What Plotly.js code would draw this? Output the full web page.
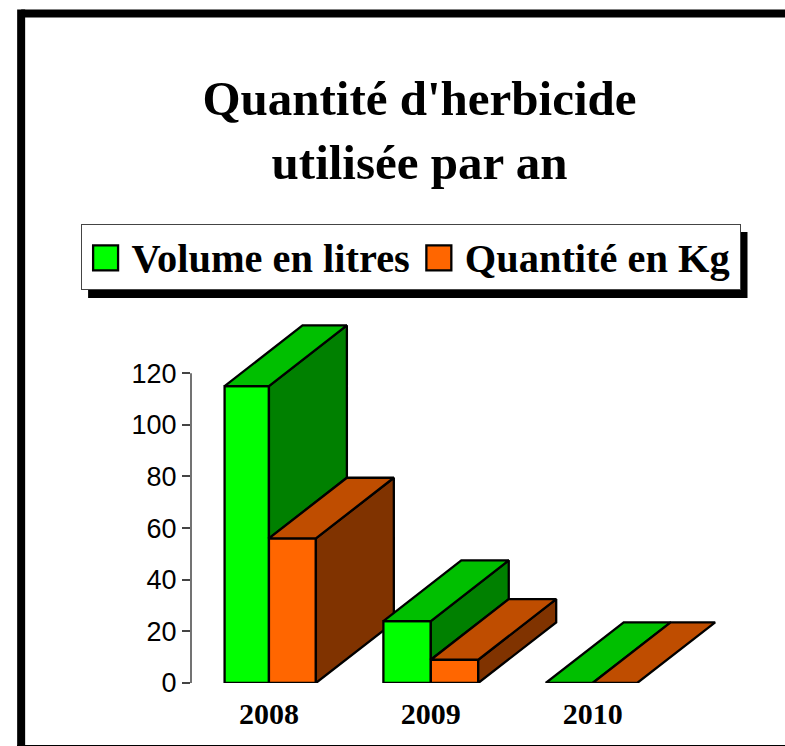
<!DOCTYPE html>
<html>
<head>
<meta charset="utf-8">
<script src="https://cdn.plot.ly/plotly-3.0.1.min.js"></script>
<style>html,body{margin:0;padding:0;background:#fff;overflow:hidden}</style>
</head>
<body>
<div id="chart" style="width:785px;height:746px"></div>
<script>
// ---- data ----
const years = [2008, 2009, 2010];
const volumeLitres = [115, 24, 0];
const quantiteKg = [56, 9, 0];
const seriesNames = ['Volume en litres', 'Quantité en Kg'];
const yTicks = [0, 20, 40, 60, 80, 100, 120];

// ---- styling ----
const greens = {front: '#00FF00', top: '#00BF00', side: '#008000'};
const oranges = {front: '#FF6600', top: '#BF4D00', side: '#803300'};
const GREEN_W = [0.274, 0.293, 0.29];   // front-face widths, x units
const ORANGE_W = [0.29, 0.293, 0.275];
const DEPTH_X = 0.4815;    // oblique depth, x units
const DEPTH_Y = 23.5;      // oblique depth, y units
const EDGE = {color: '#000', width: 2.3};
const SERIF = 'Liberation Serif, Times New Roman, serif';
const SANS = 'Liberation Sans, Arial, sans-serif';

// plot box in page pixels
const L = 191, R = 751.5, T = 320, B = 683.5, W = 785, H = 746;
const X_RANGE = [2007.5185, 2010.978];
const Y_RANGE = [0, 140.6];
const ITEM_W = 40;
const LEGEND_BOX_W = 659, LEGEND_BOX_H = 65;
const px = v => (v - L) / (R - L);
const py = v => (B - v) / (B - T);

const traces = [];
function poly(xs, ys, fill, ax) {
  traces.push({
    type: 'scatter', mode: 'lines', x: [...xs, xs[0]], y: [...ys, ys[0]],
    fill: 'toself', fillcolor: fill, line: {color: EDGE.color, width: EDGE.width, shape: 'linear'},
    showlegend: false, hoverinfo: 'skip', xaxis: ax.x, yaxis: ax.y
  });
}
function bar(year, value, width, offset, name, color, ax, showlegend) {
  traces.push({
    type: 'bar', x: [year], y: [value], width: [width], offset: [offset], name: name,
    marker: {color: color, line: EDGE}, showlegend: showlegend,
    legendgroup: name, xaxis: ax.x, yaxis: ax.y
  });
}

// each year gets its own overlaid subplot so later years paint over earlier ones
years.forEach((yr, i) => {
  const ax = i === 0 ? {x: 'x', y: 'y'} : {x: 'x' + (i + 1), y: 'y' + (i + 1)};
  const a = volumeLitres[i], b = quantiteKg[i];
  const x0 = yr - GREEN_W[i], x1 = yr, x2 = yr + ORANGE_W[i];
  bar(yr, a, GREEN_W[i], -GREEN_W[i], seriesNames[0], greens.front, ax, i === 0);
  bar(yr, b, ORANGE_W[i], 0, seriesNames[1], oranges.front, ax, i === 0);
  // green depth faces
  if (a > b) poly([x1, x1, x1 + DEPTH_X, x1 + DEPTH_X], [b, a, a + DEPTH_Y, b + DEPTH_Y], greens.side, ax);
  poly([x0, x1, x1 + DEPTH_X, x0 + DEPTH_X], [a, a, a + DEPTH_Y, a + DEPTH_Y], greens.top, ax);
  // orange depth faces
  if (b > 0) poly([x2, x2, x2 + DEPTH_X, x2 + DEPTH_X], [0, b, b + DEPTH_Y, DEPTH_Y], oranges.side, ax);
  poly([x1, x2, x2 + DEPTH_X, x1 + DEPTH_X], [b, b, b + DEPTH_Y, b + DEPTH_Y], oranges.top, ax);
});

const frameLine = (x0, y0, x1, y1) => ({
  type: 'line', xref: 'paper', yref: 'paper', layer: 'below',
  x0: px(x0), y0: py(y0), x1: px(x1), y1: py(y1), line: {color: '#000', width: 8}
});

const layout = {
  width: W, height: H, showlegend: true,
  paper_bgcolor: '#fff', plot_bgcolor: 'rgba(0,0,0,0)',
  margin: {l: L, r: W - R, t: T, b: H - B, pad: 0},
  barmode: 'overlay',
  title: {
    text: "Quantité d'herbicide<br>utilisée par an",
    font: {family: SERIF, size: 49, weight: 700, color: '#000'},
    x: 419.5 / W, xref: 'container', xanchor: 'center',
    y: 1 - 115 / H, yref: 'container', yanchor: 'top'
  },
  legend: {
    orientation: 'h', x: px(80.5), xanchor: 'left', y: py(224), yanchor: 'top',
    bgcolor: '#fff', bordercolor: '#444', borderwidth: 1, itemwidth: ITEM_W,
    font: {family: SERIF, size: 40.4, weight: 700, color: '#000'},
    itemclick: false, itemdoubleclick: false, traceorder: 'normal'
  },
  xaxis: {
    range: X_RANGE, tickvals: years, ticktext: years.map(String), showgrid: false, zeroline: false,
    showline: false, ticks: '', ticklabelstandoff: 10,
    tickfont: {family: SERIF, size: 30, weight: 700, color: '#000'}, fixedrange: true
  },
  yaxis: {
    range: Y_RANGE, tickvals: yTicks, showgrid: false, zeroline: false, showline: false,
    ticks: 'outside', ticklen: 8, tickwidth: 1.5, tickcolor: '#444',
    tickfont: {family: SANS, size: 27, color: '#000'}, fixedrange: true
  },
  shapes: [
    frameLine(21, 13, 800, 13),
    frameLine(21, 9, 21, 760),
    frameLine(17, 749.5, 800, 749.5),
    {type: 'rect', xref: 'paper', yref: 'paper', layer: 'below',
     x0: px(88), x1: px(748), y0: py(232), y1: py(298), fillcolor: '#000', line: {width: 0}},
    // value axis stops at its last tick
    {type: 'line', xref: 'paper', yref: 'y', layer: 'below',
     x0: 0, x1: 0, y0: yTicks[0], y1: yTicks[yTicks.length - 1], line: {color: '#444', width: 1.5}}
  ]
};
[2, 3].forEach(n => {
  layout['xaxis' + n] = {overlaying: 'x', anchor: 'y' + n, range: X_RANGE, visible: false, fixedrange: true};
  layout['yaxis' + n] = {overlaying: 'y', anchor: 'x' + n, range: Y_RANGE, visible: false, fixedrange: true};
});

function tuneLegend(gd) {
  // the library's legend swatch and box have fixed sizes: match the reference's
  gd.querySelectorAll('.legend .legendpoints path').forEach(p => {
    p.setAttribute('transform', 'translate(' + (ITEM_W / 2 + 4) + ',0) scale(2.08)');
    p.style.vectorEffect = 'non-scaling-stroke';
  });
  gd.querySelectorAll('.legend .legendtext').forEach(t => t.setAttribute('transform', 'translate(0,-2)'));
  gd.querySelectorAll('.legend rect.bg').forEach(r => {
    r.setAttribute('width', LEGEND_BOX_W);
    r.setAttribute('height', LEGEND_BOX_H);
  });
}
Plotly.newPlot('chart', traces, layout, {displayModeBar: false}).then(gd => {
  tuneLegend(gd);
  requestAnimationFrame(() => tuneLegend(gd));
  setTimeout(() => tuneLegend(gd), 50);
});
</script>
</body>
</html>
